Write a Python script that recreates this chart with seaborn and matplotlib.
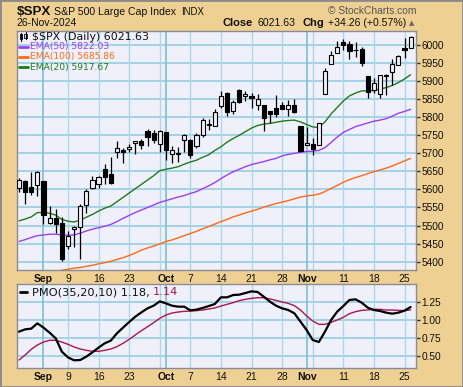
import numpy as np
import pandas as pd
import matplotlib
matplotlib.use("Agg")
import matplotlib.pyplot as plt
import seaborn as sns
from matplotlib.patches import Rectangle
from matplotlib.lines import Line2D

# trading days shown (Labor Day dropped)
dates = pd.bdate_range("2024-08-27", "2024-11-26").drop(pd.Timestamp("2024-09-02"))

open_ = [5602.89, 5624.51, 5607.30, 5612.74, 5623.89, 5506.68, 5520.08, 5507.32, 5442.07, 5490.51,
         5496.42, 5557.48, 5603.34, 5615.21, 5655.51, 5641.68, 5702.63, 5709.06, 5711.90, 5727.87,
         5733.65, 5762.22, 5755.36, 5726.52, 5757.73, 5698.28, 5698.19, 5737.70, 5737.80, 5719.14,
         5751.80, 5778.36, 5775.09, 5829.81, 5866.74, 5816.58, 5875.62, 5859.43, 5857.82, 5832.70,
         5834.50, 5817.80, 5826.75, 5833.93, 5823.18, 5832.65, 5775.34, 5723.22, 5725.15, 5722.43,
         5864.89, 5947.21, 5976.76, 6008.86, 6003.60, 5985.75, 5989.68, 5912.79, 5874.17, 5863.04,
         5914.71, 5924.09, 5944.36, 5992.28, 5992.27]
high = [5631.18, 5627.03, 5646.95, 5651.37, 5623.89, 5552.99, 5546.30, 5522.47, 5484.20, 5497.91,
        5560.41, 5600.71, 5636.27, 5636.05, 5670.81, 5689.75, 5733.57, 5715.14, 5725.36, 5735.32,
        5741.03, 5767.37, 5763.78, 5765.14, 5757.73, 5720.35, 5718.78, 5753.70, 5739.34, 5757.60,
        5796.80, 5795.03, 5822.13, 5871.41, 5870.36, 5846.52, 5878.46, 5872.17, 5866.92, 5863.04,
        5834.85, 5817.80, 5862.82, 5842.92, 5847.24, 5850.94, 5775.34, 5772.55, 5741.43, 5783.44,
        5936.14, 5983.84, 6012.45, 6017.31, 6009.92, 6008.19, 5993.88, 5915.21, 5908.12, 5917.26,
        5920.67, 5960.64, 5972.90, 6020.75, 6025.42]
low = [5593.48, 5560.95, 5583.71, 5581.79, 5504.36, 5503.66, 5480.56, 5402.62, 5434.49, 5441.72,
       5406.96, 5535.50, 5601.65, 5604.53, 5614.05, 5615.08, 5686.42, 5674.49, 5704.94, 5698.99,
       5712.06, 5721.01, 5727.34, 5703.53, 5681.40, 5674.00, 5677.36, 5702.73, 5686.85, 5714.56,
       5745.02, 5764.76, 5775.09, 5824.80, 5804.48, 5808.34, 5840.25, 5846.11, 5824.26, 5821.17,
       5762.41, 5784.92, 5799.98, 5823.08, 5802.57, 5811.28, 5702.86, 5723.22, 5696.51, 5722.10,
       5864.89, 5947.21, 5976.76, 5986.69, 5960.08, 5965.91, 5942.28, 5853.01, 5865.95, 5853.51,
       5860.58, 5889.89, 5944.36, 5963.91, 5992.27]
close = [5625.80, 5592.18, 5591.96, 5648.40, 5528.93, 5520.07, 5503.41, 5408.42, 5471.05, 5495.52,
         5554.13, 5595.76, 5626.02, 5633.09, 5634.58, 5618.26, 5713.64, 5702.55, 5718.57, 5732.93,
         5722.26, 5745.37, 5738.17, 5762.48, 5708.75, 5709.54, 5699.94, 5751.07, 5695.94, 5751.13,
         5792.04, 5780.05, 5815.03, 5859.85, 5815.26, 5842.47, 5841.47, 5864.67, 5853.98, 5851.20,
         5797.42, 5809.86, 5808.12, 5823.52, 5832.92, 5813.67, 5705.45, 5728.80, 5712.69, 5782.76,
         5929.04, 5973.10, 5995.54, 6001.35, 5983.99, 5985.38, 5949.17, 5870.62, 5893.62, 5916.98,
         5917.11, 5948.71, 5969.34, 5987.37, 6021.63]

ema20 = [5513, 5518, 5524, 5536, 5536, 5534, 5529, 5517, 5512, 5510,
         5515, 5523, 5531, 5540, 5548, 5554, 5566, 5578, 5590, 5602,
         5614, 5626, 5638, 5652, 5656, 5659, 5663, 5670, 5676, 5681,
         5689, 5696, 5708, 5718, 5731, 5741, 5750, 5760, 5770, 5777,
         5781, 5783, 5786, 5789, 5791, 5792, 5787, 5780, 5773, 5772,
         5787, 5809, 5827, 5845, 5859, 5867, 5873, 5873, 5874, 5878,
         5882, 5888, 5896, 5906, 5917.67]
ema50 = [5456, 5461, 5467, 5472, 5474, 5476, 5476, 5474, 5473, 5474,
         5479, 5485, 5490, 5494, 5498, 5503, 5511, 5520, 5528, 5536,
         5543, 5550, 5557, 5564, 5569, 5574, 5579, 5583, 5589, 5594,
         5602, 5610, 5619, 5630, 5640, 5649, 5656, 5663, 5669, 5673,
         5677, 5682, 5686, 5693, 5697, 5700, 5703, 5705, 5706, 5708,
         5716, 5730, 5745, 5758, 5766, 5774, 5779, 5784, 5789, 5792,
         5796, 5803, 5811, 5816, 5822.03]
ema100 = [5358, 5361, 5364, 5367, 5369, 5371, 5373, 5376, 5379, 5382,
          5384, 5387, 5390, 5394, 5397, 5401, 5406, 5411, 5417, 5424,
          5432, 5438, 5443, 5449, 5456, 5460, 5466, 5472, 5478, 5484,
          5491, 5497, 5504, 5511, 5517, 5524, 5529, 5535, 5540, 5545,
          5551, 5556, 5561, 5565, 5569, 5574, 5579, 5582, 5584, 5587,
          5594, 5603, 5611, 5620, 5627, 5633, 5638, 5644, 5649, 5654,
          5659, 5665, 5672, 5679, 5685.86]

pmo = [0.838, 0.870, 0.880, 0.954, 0.894, 0.824, 0.745, 0.560, 0.481, 0.440,
       0.444, 0.491, 0.551, 0.616, 0.676, 0.713, 0.815, 0.894, 0.972, 1.046,
       1.106, 1.162, 1.199, 1.259, 1.231, 1.199, 1.185, 1.185, 1.134, 1.144,
       1.167, 1.194, 1.222, 1.315, 1.315, 1.347, 1.352, 1.375, 1.398, 1.389,
       1.324, 1.255, 1.199, 1.162, 1.139, 1.093, 0.977, 0.861, 0.722, 0.694,
       0.838, 1.000, 1.116, 1.194, 1.278, 1.287, 1.241, 1.171, 1.139, 1.125,
       1.102, 1.088, 1.102, 1.130, 1.18]
pmo_signal = [0.444, 0.514, 0.593, 0.653, 0.694, 0.718, 0.718, 0.694, 0.662, 0.625,
              0.597, 0.579, 0.565, 0.565, 0.579, 0.597, 0.630, 0.676, 0.731, 0.792,
              0.852, 0.907, 0.963, 1.023, 1.069, 1.097, 1.111, 1.120, 1.125, 1.130,
              1.139, 1.153, 1.167, 1.194, 1.218, 1.241, 1.269, 1.287, 1.301, 1.310,
              1.310, 1.292, 1.273, 1.250, 1.231, 1.199, 1.139, 1.056, 0.986, 0.940,
              0.940, 0.968, 1.000, 1.037, 1.088, 1.116, 1.134, 1.139, 1.148, 1.148,
              1.139, 1.139, 1.134, 1.130, 1.14]

tick_dates = ["2024-09-03", "2024-09-09", "2024-09-16", "2024-09-23", "2024-10-01", "2024-10-07",
              "2024-10-14", "2024-10-21", "2024-10-28", "2024-11-01", "2024-11-11", "2024-11-18",
              "2024-11-25"]
tick_labels = ["Sep", "9", "16", "23", "Oct", "7", "14", "21", "28", "Nov", "11", "18", "25"]
price_ticks = list(range(5400, 6001, 50))
pmo_ticks = [0.50, 0.75, 1.00, 1.25]

W, H = 463, 387
BG = "#efd093"
PANEL = "#f0f0fa"
GRID = "#a9d9e8"
HGRID = "#9bd0e3"
MONTH_GRID = "#86c2d8"
EDGE = "#8a8a98"

sns.set_style("white")
plt.rcParams["font.family"] = ["Liberation Sans", "DejaVu Sans"]

df = pd.DataFrame({"idx": np.arange(len(dates)), "open": open_, "high": high, "low": low,
                   "close": close, "ema20": ema20, "ema50": ema50, "ema100": ema100,
                   "pmo": pmo, "signal": pmo_signal})

def px(x):
    return x / W

def py(y):
    return 1 - y / H

fig = plt.figure(figsize=(W / 100, H / 100), dpi=100, facecolor=BG)
ax = fig.add_axes([px(16.7), py(270), 399 / W, 239.3 / H])
ax2 = fig.add_axes([px(16.7), py(368.3), 399 / W, 84 / H])

# grid positions: first trading day of each week and of each month
week_start = [i for i in range(len(dates)) if i == 0 or dates[i].weekday() < dates[i - 1].weekday()]
month_start = [i for i in range(1, len(dates)) if dates[i].month != dates[i - 1].month]
tick_pos = [dates.get_loc(pd.Timestamp(d)) for d in tick_dates]
XMIN, XMAX = -0.38, 64.83

for a, levels in ((ax, price_ticks), (ax2, pmo_ticks)):
    a.set_facecolor(PANEL)
    a.hlines(levels, XMIN, XMAX, colors=HGRID, linewidth=1.3, zorder=1)
    for i in week_start:
        if i > 0 and i not in month_start:
            a.axvline(i, color=GRID, lw=1.0, zorder=1)
    for i in month_start:
        a.axvline(i, color=MONTH_GRID, lw=1.3, zorder=1)
    for s in a.spines.values():
        s.set_color(EDGE)
        s.set_linewidth(1.0)

# price panel
sns.lineplot(data=df, x="idx", y="ema100", ax=ax, color="#fa6a16", lw=1.0, zorder=2)
sns.lineplot(data=df, x="idx", y="ema50", ax=ax, color="#9b3ff0", lw=1.0, zorder=2)
sns.lineplot(data=df, x="idx", y="ema20", ax=ax, color="#1f7a1f", lw=1.0, zorder=2)

up = df["close"] >= df["open"]
ax.vlines(df["idx"], df["low"], df["high"], color="black", lw=0.9, zorder=3)
body_lo = np.minimum(df["open"], df["close"])
body_h = np.maximum((df["close"] - df["open"]).abs(), 1.5)
ax.bar(df["idx"], body_h, bottom=body_lo, width=0.68,
       color=np.where(up, PANEL, "black"), edgecolor="black", linewidth=0.8, zorder=4)
ax.set_ylim(5376.9, 6039.6)
ax.set_yticks(price_ticks)

# PMO panel
sns.lineplot(data=df, x="idx", y="signal", ax=ax2, color="#a8174a", lw=1.0, zorder=2)
sns.lineplot(data=df, x="idx", y="pmo", ax=ax2, color="black", lw=1.6, zorder=3)
ax2.set_ylim(0.329, 1.496)
ax2.set_yticks(pmo_ticks)
ax2.set_yticklabels(["0.50", "0.75", "1.00", "1.25"])

for a in (ax, ax2):
    a.set_xlim(XMIN, XMAX)
    a.set_xlabel("")
    a.set_ylabel("")
    a.yaxis.tick_right()
    a.set_xticks(tick_pos)
    a.set_xticklabels(tick_labels)
    for lab in a.get_xticklabels():
        if lab.get_text() in ("Sep", "Oct", "Nov"):
            lab.set_fontweight("bold")
    a.set_xticks(np.arange(len(dates)), minor=True)
    a.tick_params(axis="x", which="major", length=0, labelsize=7.5, pad=3, colors="#111")
    a.tick_params(axis="x", which="minor", length=2, width=0.8, color=EDGE, direction="out")
    a.tick_params(axis="y", length=3, width=1.0, color="#333", labelsize=7.3, pad=1,
                  labelcolor="#111")

# header
fig.text(px(16.5), py(12), "$SPX", fontsize=9.6, fontweight="bold", va="center", color="#111")
fig.text(px(54), py(12), "S&P 500 Large Cap Index", fontsize=7.6, va="center", color="#111")
fig.text(px(181), py(12), "INDX", fontsize=6.9, va="center", color="#111")
fig.text(px(416), py(11), "\u00a9 StockCharts.com", fontsize=7.4, va="center", ha="right", color="#555")
fig.text(px(16), py(23.5), "26-Nov-2024", fontsize=7.5, va="center", color="#111")
fig.text(px(222.7), py(23.5), "Close", fontsize=8, fontweight="bold", va="center", color="#111")
fig.text(px(257.7), py(23.5), "6021.63", fontsize=7.6, va="center", color="#111")
fig.text(px(302.7), py(23.5), "Chg", fontsize=8, fontweight="bold", va="center", color="#111")
fig.text(px(327.7), py(23.5), "+34.26 (+0.57%)", fontsize=7.6, va="center", color="#111")
fig.text(px(409.3), py(23), "\u25b2", fontsize=5, va="center", color="#666",
         family=["DejaVu Sans"])

# legend of price panel
leg_font = ["DejaVu Sans"]
for (x0, y0, y1, filled) in [(21, 34.5, 39, True), (25.5, 33.5, 37.5, False)]:
    fig.add_artist(Line2D([px(x0), px(x0)], [py(y0 - 1.5), py(y1 + 1.5)], color="black", lw=0.8))
    fig.add_artist(Rectangle((px(x0 - 1.3), py(y1)), 2.6 / W, (y1 - y0) / H,
                             facecolor="black" if filled else PANEL, edgecolor="black", lw=0.6))
fig.text(px(31.5), py(36.5), "$SPX (Daily) 6021.63", fontsize=7.9, va="center",
         color="#111", family=leg_font)
for y, col, txt in [(46.7, "#9b3ff0", "EMA(50) 5822.03"),
                    (56.7, "#fa6a16", "EMA(100) 5685.86"),
                    (67.3, "#1f7a1f", "EMA(20) 5917.67")]:
    fig.add_artist(Line2D([px(19.3), px(28.3)], [py(y), py(y)], color=col, lw=2))
    fig.text(px(29.7), py(y), txt, fontsize=6.6, va="center", color=col, family=leg_font)

# legend of PMO panel
fig.add_artist(Line2D([px(20), px(27)], [py(292.3), py(292.3)], color="black", lw=2))
fig.text(px(31.5), py(292.3), "PMO(35,20,10) 1.18,", fontsize=8.2, va="center",
         color="#111", family=leg_font)
fig.text(px(153), py(292.3), "1.14", fontsize=8.2, va="center", color="#a8174a", family=leg_font)

fig.add_artist(Rectangle((0, 0), 1, 1, transform=fig.transFigure, fill=False,
                         edgecolor="#8a8a8a", lw=2))

fig.savefig("out.png", dpi=100, facecolor=BG)
